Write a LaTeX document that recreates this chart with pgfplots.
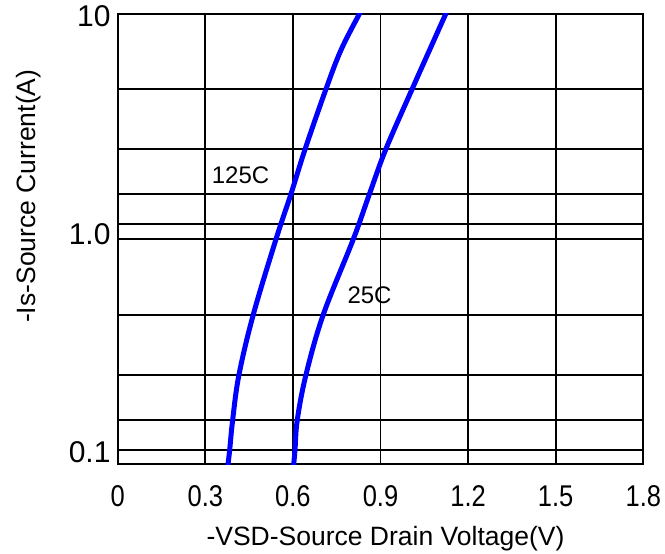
\documentclass[border=0pt]{standalone}
\usepackage{fontspec}
\setmainfont{Liberation Sans}
\newfontfamily\narrowfont[FakeStretch=0.85]{Liberation Sans}
\usepackage{pgfplots}
\pgfplotsset{compat=1.18}
\definecolor{curveblue}{RGB}{0,0,255}
\begin{document}
\begin{tikzpicture}
\path[use as bounding box] (-117.7bp,-90bp) rectangle (547.3bp,464bp);
\begin{axis}[
  scale only axis, width=525.6bp, height=450bp,
  xmin=0, xmax=1.8, ymin=0.086, ymax=10, ymode=log,
  xtick={0,0.3,0.6,0.9,1.2,1.5,1.8},
  xticklabels={0,0.3,0.6,0.9,1.2,1.5,1.8},
  ytick={0.1,1,10}, yticklabels={0.1,1.0,10},
  extra y ticks={0.1,0.1373,0.2211,0.4173,0.925,1.084,1.494,2.405,4.538},
  extra y tick labels={},
  extra y tick style={ymajorgrids=true},
  xmajorgrids=true, ymajorgrids=false,
  major grid style={black, line width=1.9bp},
  minor tick num=0,
  tick style={draw=none}, major tick length=0pt,
  axis line style={black, line width=2.2bp},
  /pgf/number format/assume math mode=true,
  xticklabel style={font=\narrowfont\fontsize{30bp}{30bp}\selectfont, anchor=center, inner sep=0pt, yshift=-32bp},
  yticklabel style={font=\fontsize{30bp}{30bp}\selectfont, anchor=east, inner sep=0pt, xshift=-7bp, yshift=-2bp},
  xlabel={-VSD-Source Drain Voltage(V)},
  ylabel={-Is-Source Current(A)},
  xlabel style={font=\fontsize{26.5bp}{27bp}\selectfont, at={(axis description cs:0.5095,-0.166)}, anchor=center, inner sep=0pt},
  ylabel style={font=\fontsize{26.5bp}{27bp}\selectfont, at={(axis description cs:-0.169,0.595)}, anchor=center, inner sep=0pt},
]
\addplot[curveblue, line width=5bp, smooth, tension=0.6] coordinates {
  (0.3770,0.084) (0.3836,0.1) (0.3938,0.1373) (0.4154,0.2211)
  (0.4644,0.4173) (0.5421,0.925) (0.5935,1.494)
  (0.6421,2.405) (0.7137,4.538) (0.7647,6.833) (0.8274,10) (0.8323,10.3)
};
\addplot[curveblue, line width=5bp, smooth, tension=0.6] coordinates {
  (0.6022,0.084) (0.6072,0.1) (0.6151,0.1373) (0.6449,0.2211)
  (0.7041,0.4173) (0.8068,0.925) (0.8623,1.494)
  (0.9188,2.405) (1.0089,4.538) (1.0680,6.833) (1.1233,10) (1.1276,10.3)
};
\node[anchor=west, inner sep=0pt, font=\fontsize{24bp}{24bp}\selectfont] at (axis cs:0.3219,1.82) {125C};
\node[anchor=west, inner sep=0pt, font=\fontsize{24bp}{24bp}\selectfont] at (axis cs:0.7863,0.5116) {25C};
\end{axis}
\end{tikzpicture}
\end{document}
